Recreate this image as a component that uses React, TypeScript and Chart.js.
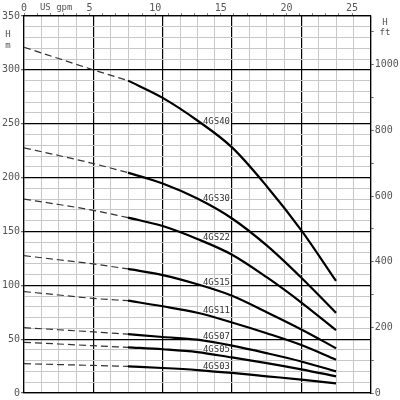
import React, { useEffect, useRef } from "react";
import { Chart, registerables } from "chart.js";

Chart.register(...registerables);

// flow in l/min (bottom scale, not labelled in the original), head in metres
const flowLpm = [0, 10, 20, 30, 40, 50, 60, 70, 80, 90];
const dashedUntil = 30; // left part of every curve is dashed

const models = ["4GS40", "4GS30", "4GS22", "4GS15", "4GS11", "4GS07", "4GS05", "4GS03"];
const head4GS40 = [321, 310.5, 300, 290, 274, 253, 228, 192, 151, 104];
const head4GS30 = [227.5, 220.5, 213, 204.6, 194.5, 180.5, 162, 137, 107, 74.4];
const head4GS22 = [180, 175, 169.6, 162.8, 155, 143, 128.4, 107.5, 84, 58.3];
const head4GS15 = [127.5, 123.7, 119.8, 115.2, 109.5, 101, 90.3, 75, 59, 41.6];
const head4GS11 = [94.2, 91, 87.8, 85.7, 80.5, 74.5, 65.5, 55.5, 44.5, 30.8];
const head4GS07 = [60.7, 58.7, 56.7, 54.6, 52, 49.5, 44, 37, 29.3, 20.1];
const head4GS05 = [47, 45.5, 43.9, 42.4, 40.6, 38, 33, 27.8, 22, 15.5];
const head4GS03 = [27.2, 26.4, 25.6, 24.7, 23.2, 21.3, 18.6, 15.5, 12.5, 8.9];
const heads = [head4GS40, head4GS30, head4GS22, head4GS15, head4GS11, head4GS07, head4GS05, head4GS03];

const metreLabels = [0, 50, 100, 150, 200, 250, 300, 350];
const feetLabels = [0, 200, 400, 600, 800, 1000];
const gpmLabels = [0, 5, 10, 15, 20, 25];

const LPM_PER_GPM = 3.78541;
const M_PER_FT = 0.3048;
const FLOW_MAX = 100;
const HEAD_MAX = 350;
const LABEL_FLOW = 51.6;

const FONT = '"DejaVu Sans Mono", monospace';
const MAJOR = "#000";
const MINOR = "#c8c8c8";
const TEXT = "#555";

function headAt(h: number[], q: number) {
    for (let i = 1; i < flowLpm.length; i++) {
        if (q <= flowLpm[i]) {
            const t = (q - flowLpm[i - 1]) / (flowLpm[i] - flowLpm[i - 1]);
            return h[i - 1] + t * (h[i] - h[i - 1]);
        }
    }
    return h[h.length - 1];
}

function drawCurveLabels(chart: any, withText: boolean) {
    const ctx = chart.ctx;
    const xs = chart.scales.x;
    const ys = chart.scales.y;
    ctx.save();
    ctx.font = `9px ${FONT}`;
    ctx.textBaseline = "middle";
    ctx.textAlign = "left";
    models.forEach((name, i) => {
        const x = xs.getPixelForValue(LABEL_FLOW);
        const y = ys.getPixelForValue(headAt(heads[i], LABEL_FLOW)) - 4;
        const w = ctx.measureText(name).width;
        if (!withText) {
            ctx.fillStyle = "#fff";
            ctx.fillRect(x - 1, y - 4, w + 2, 8);
        } else {
            ctx.fillStyle = "#333";
            ctx.fillText(name, x, y + 0.5);
        }
    });
    ctx.restore();
}

const labelPlugin = {
    id: "curveLabels",
    beforeDatasetsDraw(chart: any) {
        drawCurveLabels(chart, false);
    },
    afterDatasetsDraw(chart: any) {
        drawCurveLabels(chart, true);
    },
    afterDraw(chart: any) {
        const ctx = chart.ctx;
        const top = chart.scales.x2;
        ctx.save();
        ctx.fillStyle = TEXT;
        ctx.font = `9px ${FONT}`;
        ctx.textAlign = "center";
        ctx.textBaseline = "middle";
        ctx.fillText("US gpm", top.getPixelForValue(2.45), 7.5);
        ctx.fillText("H", 8, 35);
        ctx.fillText("m", 8, 46);
        ctx.fillText("H", 385, 23);
        ctx.fillText("ft", 385, 33);
        ctx.restore();
    },
};

function buildDatasets() {
    const sets: any[] = [];
    heads.forEach((h, i) => {
        const dashed = flowLpm
            .map((q, j) => ({ x: q, y: h[j] }))
            .filter((p) => p.x <= dashedUntil);
        const solid = flowLpm
            .map((q, j) => ({ x: q, y: h[j] }))
            .filter((p) => p.x >= dashedUntil);
        sets.push({
            label: models[i] + " (extrapolated)",
            data: dashed,
            borderColor: "#333",
            borderWidth: 1.2,
            borderDash: [7, 4],
            pointRadius: 0,
            cubicInterpolationMode: "monotone",
        });
        sets.push({
            label: models[i],
            data: solid,
            borderColor: "#000",
            borderWidth: 2.2,
            pointRadius: 0,
            cubicInterpolationMode: "monotone",
        });
    });
    return sets;
}

export default function App() {
    const chartRef = useRef<HTMLCanvasElement>(null);

    useEffect(() => {
        const config: any = {
            type: "line",
            data: { datasets: buildDatasets() },
            options: {
                animation: false,
                responsive: true,
                maintainAspectRatio: false,
                layout: { padding: 0 },
                plugins: {
                    legend: { display: false },
                    tooltip: { enabled: false },
                    title: { display: false },
                },
                scales: {
                    x: {
                        type: "linear",
                        position: "bottom",
                        min: 0,
                        max: FLOW_MAX,
                        ticks: { display: false, stepSize: 5 },
                        grid: {
                            drawTicks: false,
                            color: (c: any) => (c.tick.value % 20 === 0 ? MAJOR : MINOR),
                            lineWidth: (c: any) => (c.tick.value % 20 === 0 ? 1.2 : 1),
                        },
                        border: { display: true, color: MAJOR, width: 1.2 },
                        afterFit: (s: any) => {
                            s.height = 1.3;
                        },
                    },
                    x2: {
                        type: "linear",
                        position: "top",
                        min: 0,
                        max: FLOW_MAX / LPM_PER_GPM,
                        afterBuildTicks: (s: any) => {
                            s.ticks = s.ticks.filter((t: any) => Number.isInteger(t.value));
                        },
                        ticks: {
                            stepSize: 1,
                            autoSkip: false,
                            maxRotation: 0,
                            padding: -1,
                            color: TEXT,
                            font: { family: FONT, size: 10 },
                            callback: (v: any) => (gpmLabels.includes(v) ? String(v) : ""),
                        },
                        grid: {
                            drawOnChartArea: false,
                            tickLength: 3,
                            tickColor: "#888",
                        },
                        border: { display: true, color: MAJOR, width: 1.2 },
                        afterFit: (s: any) => {
                            s.height = 16;
                        },
                    },
                    y: {
                        type: "linear",
                        position: "left",
                        min: 0,
                        max: HEAD_MAX,
                        ticks: {
                            stepSize: 10,
                            autoSkip: false,
                            padding: 1,
                            color: TEXT,
                            font: { family: FONT, size: 10 },
                            callback: (v: any) => (metreLabels.includes(v) ? String(v) : ""),
                        },
                        grid: {
                            tickLength: 3,
                            color: (c: any) => (c.tick.value % 50 === 0 ? MAJOR : MINOR),
                            lineWidth: (c: any) => (c.tick.value % 50 === 0 ? 1.2 : 1),
                            tickColor: (c: any) => (c.tick.value % 50 === 0 ? "#666" : "rgba(0,0,0,0)"),
                        },
                        border: { display: true, color: MAJOR, width: 1.2 },
                        afterFit: (s: any) => {
                            s.width = 24;
                        },
                    },
                    y2: {
                        type: "linear",
                        position: "right",
                        min: 0,
                        max: HEAD_MAX / M_PER_FT,
                        afterBuildTicks: (s: any) => {
                            s.ticks = s.ticks.filter((t: any) => t.value % 100 === 0);
                        },
                        ticks: {
                            stepSize: 100,
                            autoSkip: false,
                            padding: 1,
                            color: TEXT,
                            font: { family: FONT, size: 10 },
                            callback: (v: any) => (feetLabels.includes(v) ? String(v) : ""),
                        },
                        grid: {
                            drawOnChartArea: false,
                            tickLength: 3,
                            tickColor: "#666",
                        },
                        border: { display: true, color: MAJOR, width: 1.2 },
                        afterFit: (s: any) => {
                            s.width = 29.3;
                        },
                    },
                },
            },
            plugins: [labelPlugin],
        };

        const chartInstance = new Chart(chartRef.current as HTMLCanvasElement, config);

        return () => chartInstance.destroy();
    }, []);

    return (
        <div style={{ position: "absolute", left: 0, top: 0, width: 400, height: 400, background: "#fff" }}>
            <canvas ref={chartRef}></canvas>
        </div>
    );
}
